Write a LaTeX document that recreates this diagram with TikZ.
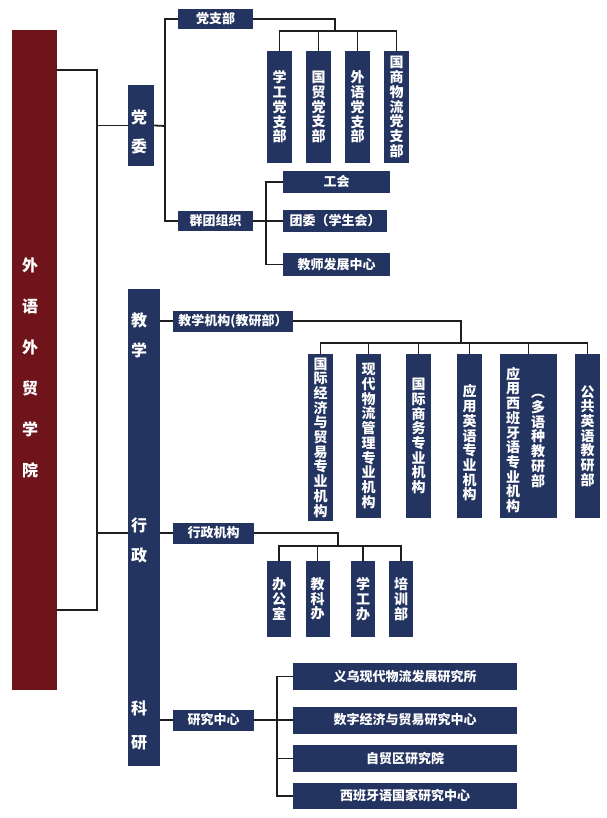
\documentclass[tikz,border=0pt]{standalone}
\usepackage{fontspec}
\setmainfont{Noto Sans CJK SC}
\usepackage{xcolor}
\usepackage{tikz}

\definecolor{navy}{RGB}{36,52,96}
\definecolor{rootred}{RGB}{110,20,26}
\definecolor{linegray}{RGB}{30,30,30}

\begin{document}
\setlength{\lineskiplimit}{-20pt}
\begin{tikzpicture}[x=1pt, y=-1pt,
    box/.style={rectangle, fill=navy, text=white, inner sep=0pt, align=center,
        font=\bfseries\fontsize{13}{14.6}\selectfont},
    vbox/.style={box, minimum width=25pt, font=\bfseries\fontsize{14}{14.7}\selectfont},
    hbox/.style={box, minimum height=21pt},
    bigtxt/.style={text=white, inner sep=0pt, align=center,
        font=\bfseries\fontsize{16}{#1}\selectfont},
    link/.style={draw=linegray, line width=1.8pt}]

    \useasboundingbox (0,0) rectangle (606,818);

    % root and first level
    \node[fill=rootred, minimum width=45pt, minimum height=660pt, inner sep=0pt] (root) at (34.5,360) {};
    \node[bigtxt=41] (roottxt) at (30,368) {外\\语\\外\\贸\\学\\院};

    \node[box, minimum width=26pt, minimum height=81pt] (dangwei) at (141,125.5) {};
    \node[bigtxt=29] (dangweitxt) at (139,131.5) {党\\委};

    \node[box, minimum width=32pt, minimum height=477pt] (jxky) at (144,527.5) {};
    \node[bigtxt=30] (jiaoxuetxt) at (139,335) {教\\学};
    \node[bigtxt=30] (xingzhengtxt) at (139,540) {行\\政};
    \node[bigtxt=34] (keyantxt) at (139,725) {科\\研};

    % party branch
    \node[hbox, minimum width=75pt, minimum height=20pt] (dzb) at (215.5,19) {党支部};
    \node[hbox, minimum width=75pt, minimum height=20pt] (qtzz) at (215.5,221) {群团组织};

    \node[vbox, minimum height=112pt] (zb1) at (279.5,107) {学\\工\\党\\支\\部};
    \node[vbox, minimum height=112pt] (zb2) at (318.5,107) {国\\贸\\党\\支\\部};
    \node[vbox, minimum height=112pt] (zb3) at (357.5,107) {外\\语\\党\\支\\部};
    \node[vbox, minimum height=112pt] (zb4) at (396.5,107) {国\\商\\物\\流\\党\\支\\部};

    \node[hbox, minimum width=107pt, minimum height=22pt] (gh) at (336.5,182) {工会};
    \node[hbox, minimum width=104pt] (tw) at (335,221) {团委（学生会）};
    \node[hbox, minimum width=107pt, minimum height=23pt] (js) at (336.5,264.5) {教师发展中心};

    % teaching
    \node[hbox, minimum width=120pt] (jxjg) at (233,321) {教学机构(教研部）};

    \node[vbox, minimum height=167pt] (jg1) at (320.5,437.5) {国\\际\\经\\济\\与\\贸\\易\\专\\业\\机\\构};
    \node[vbox, minimum height=164pt] (jg2) at (368.5,436) {现\\代\\物\\流\\管\\理\\专\\业\\机\\构};
    \node[vbox, minimum height=164pt] (jg3) at (418.5,436) {国\\际\\商\\务\\专\\业\\机\\构};
    \node[vbox, minimum height=164pt] (jg4) at (469.5,436) {};
    \node[vbox, fill=none] (jg4txt) at (469.5,443) {应\\用\\英\\语\\专\\业\\机\\构};
    \node[vbox, minimum width=57pt, minimum height=164pt] (jg5) at (528.5,436) {};
    \node[vbox, fill=none] (jg5a) at (513,440) {应\\用\\西\\班\\牙\\语\\专\\业\\机\\构};
    \node[vbox, fill=none] (jg5b) at (538,441) {︵\\多\\语\\种\\教\\研\\部};
    \node[vbox, minimum height=164pt] (jg6) at (587.5,436) {公\\共\\英\\语\\教\\研\\部};

    % administration
    \node[hbox, minimum width=81pt] (xzjg) at (213.5,533) {行政机构};

    \node[vbox, minimum width=24pt, minimum height=76pt] (xz1) at (279,599) {办\\公\\室};
    \node[vbox, minimum width=24pt, minimum height=76pt] (xz2) at (317.5,599) {教\\科\\办};
    \node[vbox, minimum width=24pt, minimum height=76pt] (xz3) at (363,599) {学\\工\\办};
    \node[vbox, minimum width=24pt, minimum height=76pt] (xz4) at (401,599) {培\\训\\部};

    % research
    \node[hbox, minimum width=81pt] (yjzx) at (213.5,720) {研究中心};

    \node[hbox, minimum width=224pt, minimum height=27pt] (yj1) at (405,676.5) {义乌现代物流发展研究所};
    \node[hbox, minimum width=224pt, minimum height=27pt] (yj2) at (405,720) {数字经济与贸易研究中心};
    \node[hbox, minimum width=224pt, minimum height=27pt] (yj3) at (405,758.5) {自贸区研究院};
    \node[hbox, minimum width=224pt, minimum height=26pt] (yj4) at (405,796) {西班牙语国家研究中心};

    % connectors
    \coordinate (topjoint) at (97,70);
    \coordinate (botjoint) at (97,610);
    \draw[link] (root.east |- topjoint) -- (topjoint) -- (botjoint) -- (root.east |- botjoint);
    \draw[link] (topjoint |- dangwei.west) -- (dangwei.west);
    \draw[link] (topjoint |- xzjg.west) -- (jxky.west |- xzjg.west);

    \coordinate (dwjoint) at (165,126);
    \draw[link] (dangwei.east) -- (dwjoint);
    \draw[link] (dzb.west) -| (dwjoint) |- (qtzz.west);

    \coordinate (dzbbar) at (335,31);
    \draw[link] (dzb.east) -| (dzbbar);
    \draw[link] (zb1.north) |- (dzbbar) -| (zb4.north);
    \foreach \n in {zb2,zb3}
        \draw[link] (\n.north) -- (\n.north |- dzbbar);

    \coordinate (qtjoint) at (266,221);
    \draw[link] (qtzz.east) -- (tw.west);
    \draw[link] (gh.west) -| (qtjoint) |- (js.west);

    \draw[link] (jxky.east |- jxjg.west) -- (jxjg.west);
    \draw[link] (jxky.east |- xzjg.west) -- (xzjg.west);
    \draw[link] (jxky.east |- yjzx.west) -- (yjzx.west);

    \coordinate (jxbar) at (461,343);
    \draw[link] (jxjg.east) -| (jxbar);
    \draw[link] (jg1.north) |- (jxbar) -| (jg6.north);
    \foreach \n in {jg2,jg3,jg4,jg5}
        \draw[link] (\n.north) -- (\n.north |- jxbar);

    \coordinate (xzbar) at (338,546);
    \draw[link] (xzjg.east) -| (xzbar);
    \draw[link] (xz1.north) |- (xzbar) -| (xz4.north);
    \foreach \n in {xz2,xz3}
        \draw[link] (\n.north) -- (\n.north |- xzbar);

    \coordinate (yjjoint) at (277,720);
    \draw[link] (yjzx.east) -- (yj2.west);
    \draw[link] (yj1.west) -| (yjjoint) |- (yj4.west);
    \draw[link] (yj3.west) -- (yj3.west -| yjjoint);

\end{tikzpicture}
\end{document}
